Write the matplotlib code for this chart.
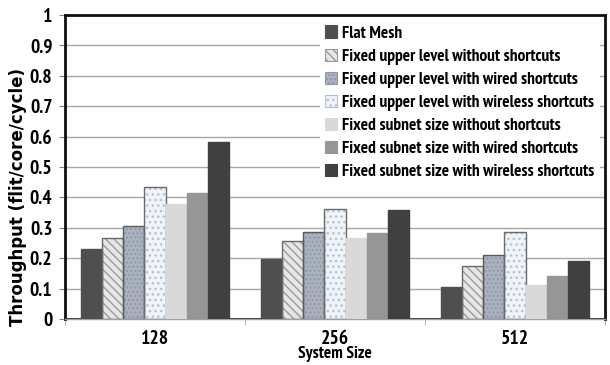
import matplotlib.pyplot as plt
import matplotlib.font_manager as fm
import numpy as np

sizes = ['128', '256', '512']
series = ['Flat Mesh',
          'Fixed upper level without shortcuts',
          'Fixed upper level with wired shortcuts',
          'Fixed upper level with wireless shortcuts',
          'Fixed subnet size without shortcuts',
          'Fixed subnet size with wired shortcuts',
          'Fixed subnet size with wireless shortcuts']
values = [
    [0.230, 0.198, 0.105],
    [0.268, 0.258, 0.173],
    [0.305, 0.285, 0.210],
    [0.435, 0.362, 0.287],
    [0.378, 0.265, 0.113],
    [0.415, 0.283, 0.142],
    [0.583, 0.360, 0.190],
]

faces = ['#4f4f4f', '#e6e6e6', '#aab2c0', '#f0f3f8', '#d9d9d9', '#969696', '#404040']
hatches = [None, '\\\\\\\\', '....', '...', None, None, None]
hatch_cols = [None, '#9a9a9a', '#8e97a8', '#b4c0d6', None, None, None]
edges = ['#4f4f4f', '#6a6a6a', '#5a5a5a', '#6a6a6a', '#d9d9d9', '#969696', '#404040']

# narrow bold face if there is one (Liberation Sans Narrow first), else DejaVu bold
narrow = None
cands = []
for f in fm.fontManager.ttflist:
    nm = f.fname.lower()
    if 'oblique' in nm or 'italic' in nm or 'bold' not in nm:
        continue
    if 'narrow' in nm:
        cands.append((0, f.fname))
    elif 'condensed' in nm:
        cands.append((1, f.fname))
if cands:
    narrow = sorted(cands)[0][1]

def fp(size):
    if narrow:
        return fm.FontProperties(fname=narrow, size=size)
    return fm.FontProperties(family='DejaVu Sans', weight='bold', size=size)

fig = plt.figure(figsize=(6.1, 3.65), dpi=100)
ax = fig.add_axes([65 / 610, 1 - 319 / 365, 540 / 610, 304 / 365])

x = np.arange(len(sizes))
w = 0.1175
handles = []
for i, name in enumerate(series):
    pos = x - 3 * w + i * w
    if hatches[i]:
        ax.bar(pos, values[i], w, color=faces[i], edgecolor=hatch_cols[i],
               hatch=hatches[i], linewidth=0, zorder=2)
    ax.bar(pos, values[i], w, facecolor='none' if hatches[i] else faces[i],
           edgecolor=edges[i], linewidth=1, zorder=3)
    h = plt.Rectangle((0, 0), 1, 1, facecolor=faces[i], edgecolor=hatch_cols[i] or edges[i],
                      hatch=hatches[i], linewidth=0.8)
    handles.append(h)

ax.set_xlim(-0.5, 2.5)
ax.set_ylim(0, 1)
ax.set_yticks(np.arange(0, 1.01, 0.1))
ax.set_yticklabels(['0'] + ['%.1f' % v for v in np.arange(0.1, 1.0, 0.1)] + ['1'],
                   fontproperties=fp(14))
ax.yaxis.grid(True, color='#a6a6a6', linewidth=1, zorder=0)
ax.set_axisbelow(True)
ax.tick_params(axis='y', length=4, color='#808080', pad=5)

ax.set_xticks(x)
ax.set_xticklabels(sizes, fontproperties=fp(14))
ax.set_xticks([-0.5, 0.5, 1.5, 2.5], minor=True)
ax.tick_params(axis='x', which='major', length=0, pad=8)
ax.tick_params(axis='x', which='minor', length=4, color='#a0a0a0')
ax.axhline(0, color='#202020', linewidth=2, zorder=1)

for s in ['left', 'top', 'right']:
    ax.spines[s].set_linewidth(2)
    ax.spines[s].set_color('#101010')
ax.spines['bottom'].set_color('#a0a0a0')
ax.spines['bottom'].set_linewidth(1)

ax.set_ylabel('Throughput (flit/core/cycle)', fontsize=12, fontweight='bold',
              family='DejaVu Sans')
ax.yaxis.set_label_coords(-0.070, 0.40)
ax.set_xlabel('System Size', fontproperties=fp(12.5), labelpad=-1.5)

leg = ax.legend(handles, series, loc='upper right', bbox_to_anchor=(1.0, 1.0),
                frameon=True, framealpha=1, edgecolor='white', fancybox=False,
                prop=fp(12.5), handlelength=0.7, handleheight=0.7, handletextpad=0.3,
                labelspacing=0.4, borderpad=0.3, borderaxespad=0.3)
leg.get_frame().set_linewidth(0)

fig.savefig('out.png', dpi=100)
